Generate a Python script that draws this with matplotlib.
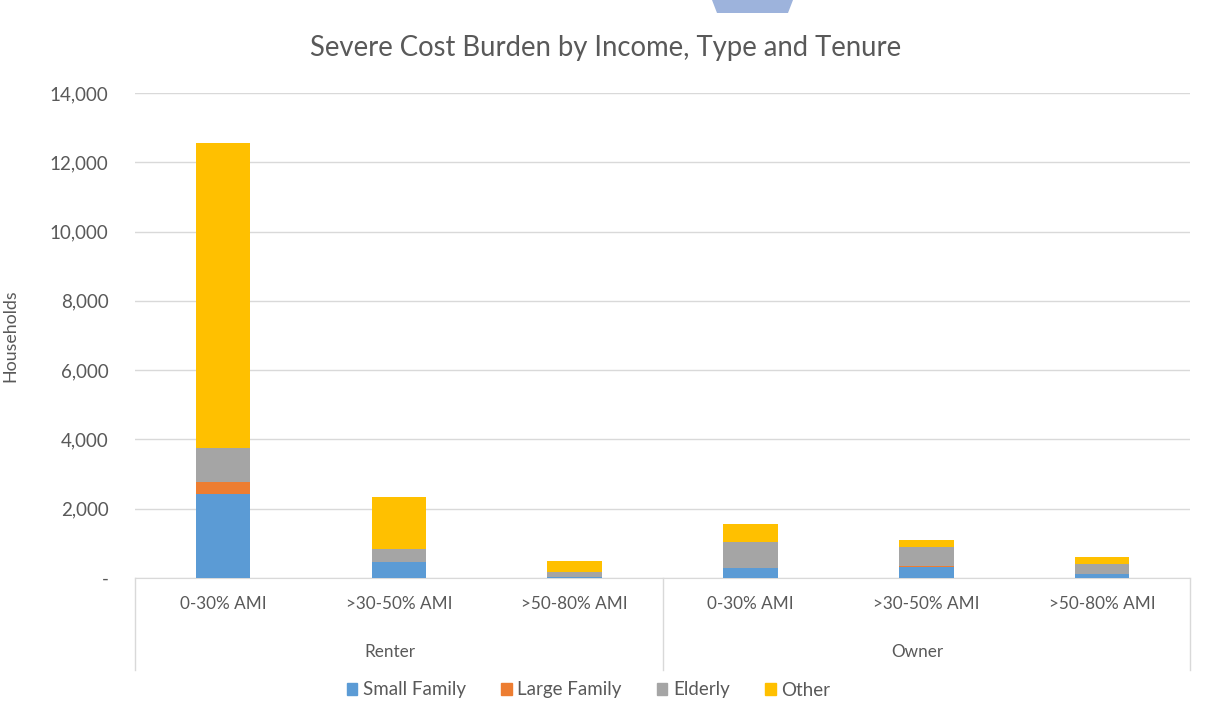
import numpy as np
import matplotlib.pyplot as plt
from matplotlib.patches import Patch, Polygon
from matplotlib.lines import Line2D
import matplotlib.transforms as mtransforms

# Households with severe cost burden, by income band within tenure
income = ['0-30% AMI', '>30-50% AMI', '>50-80% AMI', '0-30% AMI', '>30-50% AMI', '>50-80% AMI']
tenure = ['Renter', 'Owner']
small_family = [2425, 450, 25, 275, 330, 110]
large_family = [345, 12, 3, 15, 16, 5]
elderly = [980, 375, 145, 749, 549, 289]
other = [8805, 1501, 318, 520, 202, 202]

series = [('Small Family', small_family, '#5B9BD5'),
          ('Large Family', large_family, '#ED7D31'),
          ('Elderly', elderly, '#A5A5A5'),
          ('Other', other, '#FFC000')]

text_col = '#595959'
plt.rcParams['font.family'] = ['Lato', 'DejaVu Sans']

fig = plt.figure(figsize=(12.11, 7.19), dpi=100)
ax = fig.add_axes([0.1115, 0.1961, 0.8712, 0.6746])

x = np.arange(len(income))
bottom = np.zeros(len(income))
for name, vals, col in series:
    ax.bar(x, vals, width=0.31, bottom=bottom, color=col, label=name, zorder=3)
    bottom += np.array(vals)

ax.set_xlim(-0.5, len(income) - 0.5)
ax.set_ylim(0, 14000)
ax.set_yticks(np.arange(0, 14001, 2000))
ax.set_yticklabels(['-'] + [f'{v:,}' for v in range(2000, 14001, 2000)])
ax.grid(axis='y', color='#D9D9D9', linewidth=1, zorder=0)
for s in ['top', 'right', 'left']:
    ax.spines[s].set_visible(False)
ax.spines['bottom'].set_color('#D9D9D9')
ax.tick_params(axis='y', length=0, pad=19, labelsize=13.5, labelcolor=text_col)
ax.set_xticks(x)
ax.set_xticklabels(income)
ax.tick_params(axis='x', length=0, pad=13, labelsize=12.3, labelcolor=text_col)

# second level of the category axis: tenure groups with separators
trans = mtransforms.blended_transform_factory(ax.transData, ax.transAxes)
for xs in [-0.5, 2.5, 5.5]:
    ax.add_line(Line2D([xs, xs], [0, -0.19], transform=trans, color='#D9D9D9',
                       linewidth=1, clip_on=False))
for i, t in enumerate(tenure):
    ax.text(3 * i + 0.95, -0.152, t, transform=trans, ha='center', va='center',
            fontsize=12.3, color=text_col)

ax.set_ylabel('Households', fontsize=12.8, color=text_col)
ax.yaxis.set_label_coords(-0.111, 0.5)

fig.suptitle('Severe Cost Burden by Income, Type and Tenure', x=0.5, y=0.952,
             fontsize=19.8, color=text_col)

handles = [Patch(color=c, label=n) for n, _, c in series]
fig.legend(handles=handles, loc='center', bbox_to_anchor=(0.486, 1 - 690 / 719),
           ncol=4, frameon=False, fontsize=13.5, labelcolor=text_col,
           handlelength=0.55, handleheight=0.55, handletextpad=0.3, columnspacing=1.9)

# page shape peeking in at the top edge
fig.patches.append(Polygon([(712 / 1211, 1.0), (793 / 1211, 1.0),
                            (788 / 1211, 1 - 13 / 719), (717 / 1211, 1 - 13 / 719)],
                           closed=True, transform=fig.transFigure,
                           facecolor='#9DB3DC', edgecolor='none'))

fig.savefig('out.png', dpi=100)
